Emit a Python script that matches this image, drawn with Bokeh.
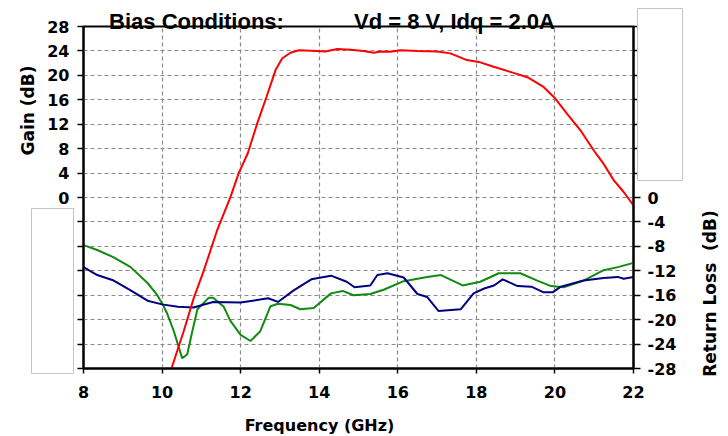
import math
from bokeh.plotting import figure
from bokeh.layouts import column
from bokeh.models import LinearAxis, FixedTicker, Range1d
from bokeh.core.properties import value
from bokeh.embed import file_html
from bokeh.resources import INLINE

# ---- data ----
freq_gain = [10.2, 10.26, 10.55, 10.81, 11.06, 11.40, 11.74, 11.95, 12.18, 12.42, 12.66,
             12.89, 13.06, 13.27, 13.48, 13.95, 14.16, 14.46, 14.8, 15.13, 15.39, 15.56,
             15.81, 16.07, 16.5, 17.0, 17.34, 17.76, 18.06, 18.44, 18.95, 19.33, 19.71,
             20.01, 20.31, 20.65, 20.99, 21.24, 21.5, 21.75, 22.0]
gain_db = [-29, -27.6, -21.9, -16.4, -12.0, -5.4, 0.05, 4.0, 7.2, 12.1, 16.5,
           20.9, 22.8, 23.7, 24.1, 24.0, 23.9, 24.3, 24.2, 24.0, 23.7, 23.9,
           23.85, 24.1, 24.0, 23.9, 23.6, 22.5, 22.2, 21.4, 20.4, 19.6, 18.1,
           16.2, 13.7, 11.0, 7.7, 5.5, 2.8, 0.9, -1.3]

freq_blue = [8.0, 8.35, 8.77, 9.2, 9.63, 10.0, 10.4, 10.8, 11.3, 12.0, 12.7, 12.95, 13.35,
             13.8, 14.3, 14.7, 14.9, 15.3, 15.48, 15.74, 16.15, 16.5, 16.75, 17.04, 17.6,
             17.93, 18.2, 18.45, 18.67, 19.05, 19.4, 19.7, 19.95, 20.15, 20.73, 21.24,
             21.6, 21.75, 22.0]
rl_blue = [-11.4, -12.7, -13.6, -15.2, -16.9, -17.5, -17.9, -18.0, -17.1, -17.2, -16.5, -17.1, -15.2,
           -13.4, -12.8, -13.8, -14.7, -14.4, -12.7, -12.4, -13.1, -15.8, -16.3, -18.6, -18.3,
           -15.7, -14.9, -14.4, -13.4, -14.5, -14.6, -15.5, -15.5, -14.6, -13.6, -13.2,
           -13.0, -13.3, -13.0]

freq_green = [8.0, 8.35, 8.77, 9.2, 9.63, 9.88, 10.04, 10.13, 10.3, 10.51, 10.64, 10.77, 10.9,
              11.19, 11.3, 11.57, 11.74, 12.0, 12.25, 12.5, 12.76, 12.95, 13.27, 13.52, 13.86,
              14.3, 14.6, 14.87, 15.3, 15.64, 16.15, 16.75, 17.1, 17.65, 18.1, 18.57, 19.12,
              19.55, 19.9, 20.22, 20.73, 21.24, 21.6, 22.0]
rl_green = [-7.8, -8.6, -9.8, -11.4, -14.0, -16.0, -17.8, -19.0, -21.9, -26.3, -25.7, -21.9, -18.3,
            -16.4, -16.4, -17.9, -20.2, -22.5, -23.5, -21.9, -17.8, -17.4, -17.6, -18.3, -18.1,
            -15.7, -15.3, -16.0, -15.8, -15.1, -13.7, -13.0, -12.7, -14.4, -13.8, -12.4, -12.4,
            -13.6, -14.5, -14.7, -13.6, -11.9, -11.4, -10.7]

x_ticks = [8, 10, 12, 14, 16, 18, 20, 22]
y_ticks = [28, 24, 20, 16, 12, 8, 4, 0, -4, -8, -12, -16, -20, -24, -28]
gain_tick_labels = ["28", "24", "20", "16", "12", "8", "4", "0", "", "", "", "", "", "", ""]
rl_tick_labels = ["", "", "", "", "", "", "", "0", "-4", "-8", "-12", "-16", "-20", "-24", "-28"]

title_left = "Bias Conditions:"
title_right = "Vd = 8 V, Idq = 2.0A"
x_title = "Frequency (GHz)"
gain_title = "Gain (dB)"
rl_title = "Return Loss\u00a0\u00a0(dB)"

FONT = "DejaVu Sans"
W, H = 728, 436

# ---------------- main chart ----------------
p = figure(width=W, height=H, x_range=Range1d(8, 22), y_range=Range1d(-28, 28),
           output_backend="svg", toolbar_location=None,
           min_border_left=83, min_border_right=95, min_border_top=26, min_border_bottom=68,
           background_fill_color="white", border_fill_color="white")

p.outline_line_color = "black"
p.outline_line_width = 2
p.outline_line_alpha = 1

right_axis = LinearAxis()
p.add_layout(right_axis, "right")

p.xaxis.ticker = FixedTicker(ticks=x_ticks)
for ax in p.yaxis:
    ax.ticker = FixedTicker(ticks=y_ticks)
p.yaxis[0].major_label_overrides = {t: s for t, s in zip(y_ticks, gain_tick_labels)}
right_axis.major_label_overrides = {t: s for t, s in zip(y_ticks, rl_tick_labels)}

for ax in p.axis:
    ax.axis_line_color = "black"
    ax.axis_line_width = 2
    ax.major_tick_line_color = "black"
    ax.major_tick_line_width = 1.5
    ax.major_tick_in = 0
    ax.minor_tick_line_color = None
    ax.major_label_text_font = FONT
    ax.major_label_text_font_style = "bold"
    ax.major_label_text_font_size = "16px"
    ax.major_label_text_color = "black"

p.xaxis.major_tick_out = 5
p.xaxis.major_label_standoff = 12
p.yaxis[0].major_tick_out = 6
p.yaxis[0].major_label_standoff = 8
right_axis.major_tick_out = 7
right_axis.major_label_standoff = 7

p.xgrid.ticker = FixedTicker(ticks=x_ticks[1:-1])
p.ygrid.ticker = FixedTicker(ticks=y_ticks[1:-1])
p.grid.grid_line_color = "#8a8a8a"
p.grid.grid_line_dash = "4 3"
p.grid.grid_line_width = 1.2

p.line(freq_green, rl_green, line_color="#108a10", line_width=2)
p.line(freq_blue, rl_blue, line_color="#000080", line_width=2)
p.line(freq_gain, gain_db, line_color="#ff0000", line_width=2)

# ---------------- transparent overlay for texts/boxes outside the plot frame ----------------
q = figure(width=W, height=H, x_range=Range1d(0, W), y_range=Range1d(H, 0),
           output_backend="svg", toolbar_location=None,
           x_axis_location=None, y_axis_location=None,
           min_border=0, min_border_left=0, min_border_right=0,
           min_border_top=0, min_border_bottom=0,
           margin=(-H, 0, 0, 0))
q.background_fill_alpha = 0
q.border_fill_alpha = 0
q.outline_line_color = None
q.grid.visible = False

for fig in (p, q):
    if "frame_align" in fig.properties():
        fig.frame_align = False

# empty framed boxes seen in the reference
q.quad(left=[31, 637], right=[73, 682], top=[208, 8], bottom=[373, 180],
       fill_color="white", line_color="#c4c4c4", line_width=1)

q.text(x=[196, 454], y=[21, 21], text=[title_left, title_right],
       text_font=value("Liberation Sans"), text_font_style="bold", text_font_size="22px",
       text_align="center", text_baseline="alphabetic", text_color="black")
q.text(x=[319], y=[425], text=[x_title], text_font=value(FONT), text_font_style="bold",
       text_font_size="16px", text_align="center", text_baseline="middle", text_color="black")
q.text(x=[27.5, 709], y=[110, 293], text=[gain_title, rl_title], angle=math.pi / 2,
       text_font=value(FONT), text_font_style="bold", text_font_size="17px",
       text_align="center", text_baseline="middle", text_color="black")

layout = column(p, q)
open("out.html", "w").write(file_html(layout, INLINE))
